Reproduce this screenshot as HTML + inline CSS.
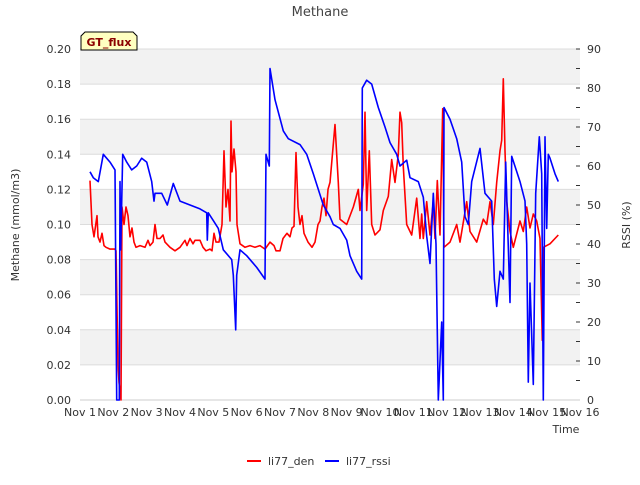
<!DOCTYPE html>
<html><head><meta charset="utf-8"><style>
body{margin:0;background:#fff;font-family:"Liberation Sans","DejaVu Sans",sans-serif}
svg text{font-family:"DejaVu Sans","Liberation Sans",sans-serif}
</style></head><body>
<svg id="c" width="640" height="480" xmlns="http://www.w3.org/2000/svg"></svg>
<script>
const xTickLabels=["Nov 1","Nov 2","Nov 3","Nov 4","Nov 5","Nov 6","Nov 7","Nov 8","Nov 9","Nov 10","Nov 11","Nov 12","Nov 13","Nov 14","Nov 15","Nov 16"];
const leftTicks=[0,0.02,0.04,0.06,0.08,0.10,0.12,0.14,0.16,0.18,0.20];
const rightTicks=[0,10,20,30,40,50,60,70,80,90];
const denDays=[0.30,.36,.42,.51,.54,.60,.66,.72,.78,.90,1.05,1.08,1.14,1.17,1.23,1.26,1.32,1.38,1.44,1.50,1.56,1.62,1.68,1.80,1.95,2.04,2.10,2.19,2.25,2.31,2.40,2.49,2.55,2.70,2.85,3.00,3.15,3.21,3.30,3.39,3.45,3.60,3.69,3.78,3.90,3.96,4.02,4.08,4.17,4.26,4.32,4.38,4.44,4.50,4.53,4.56,4.62,4.68,4.71,4.80,4.95,5.10,5.25,5.40,5.55,5.70,5.82,5.88,6.00,6.09,6.21,6.30,6.36,6.42,6.48,6.54,6.60,6.66,6.72,6.84,6.96,7.05,7.14,7.20,7.26,7.32,7.38,7.44,7.5,7.65,7.75,7.8,8.0,8.2,8.35,8.4,8.5,8.55,8.6,8.68,8.75,8.85,9.0,9.1,9.25,9.35,9.45,9.55,9.6,9.65,9.7,9.8,9.95,10.1,10.2,10.25,10.3,10.4,10.5,10.6,10.65,10.72,10.8,10.88,10.92,11.1,11.3,11.4,11.6,11.7,11.9,12.1,12.2,12.3,12.4,12.5,12.6,12.65,12.7,12.75,12.8,12.9,13.0,13.2,13.3,13.4,13.5,13.6,13.7,13.8,13.87,13.9,14.1,14.35];
const denValues=[.125,.10,.093,.105,.093,.09,.095,.088,.087,.086,.086,.085,.02,.01,0,.11,.1,.11,.105,.093,.098,.09,.087,.088,.087,.091,.088,.09,.1,.092,.092,.094,.09,.087,.085,.087,.091,.088,.092,.089,.091,.091,.087,.085,.086,.085,.095,.09,.09,.1,.142,.11,.12,.102,.159,.13,.143,.13,.1,.089,.087,.088,.087,.088,.086,.09,.088,.085,.085,.092,.095,.093,.098,.099,.141,.11,.1,.105,.095,.09,.087,.09,.1,.102,.11,.115,.105,.12,.124,.157,.124,.103,.1,.11,.12,.108,.123,.164,.108,.142,.1,.094,.097,.108,.116,.137,.124,.14,.164,.158,.133,.1,.094,.115,.092,.106,.092,.113,.094,.113,.092,.125,.094,.166,.087,.09,.1,.09,.113,.096,.09,.103,.1,.113,.1,.124,.142,.148,.183,.142,.113,.096,.087,.102,.096,.11,.098,.106,.102,.092,.034,.087,.089,.094];
const rssiDays=[.30,.40,.55,.70,.90,1.05,1.10,1.18,1.20,1.22,1.28,1.40,1.55,1.70,1.85,2.00,2.15,2.22,2.25,2.45,2.62,2.80,3.00,3.30,3.60,3.80,3.82,3.85,4.00,4.15,4.30,4.55,4.60,4.67,4.70,4.80,5.00,5.30,5.55,5.58,5.68,5.70,5.85,6.10,6.25,6.60,6.80,7.00,7.30,7.5,7.6,7.8,8.0,8.1,8.3,8.45,8.47,8.6,8.75,8.95,9.15,9.3,9.5,9.6,9.8,9.9,10.15,10.3,10.4,10.5,10.6,10.68,10.75,10.85,10.9,10.92,11.1,11.3,11.45,11.55,11.65,11.75,12.0,12.15,12.35,12.43,12.5,12.6,12.7,12.77,12.9,12.95,13.2,13.35,13.4,13.45,13.5,13.6,13.67,13.78,13.85,13.9,13.95,14.0,14.05,14.1,14.25,14.35];
const rssiValues=[58.5,57,56,63,61,59,0,0,56,38.5,63,61,59,60,62,61,56,51,53,53,50,55.5,51,50,49,48,41,48,46,44,38.5,36,32,18,32,38.5,37,34,31,63,60,85,77,69,67,65.5,63,58,50,47,45,44,41,37,33,31,80,82,81,75,70,66,63,60,61.5,57,56,52,42,35,53,40,0,20,0,75,72,67,61,47,45,56,64.5,53,51,31,24,33,31,61,25,62.5,56,51,40,4.6,30,4,53,67.5,58,0,67.5,44,63,62,58,56];

const L=80,R=580,T=49,B=400;
const xs=d=>L+d*(R-L)/15;
const yl=v=>B-v/0.2*(B-T);
const yr=v=>B-v/90*(B-T);
const svg=document.getElementById('c');
const NS='http://www.w3.org/2000/svg';
function mk(tag,at,txt){const e=document.createElementNS(NS,tag);for(const k in at)e.setAttribute(k,at[k]);if(txt!=null)e.textContent=txt;svg.appendChild(e);return e;}

let e=mk('rect',{x:L,y:T,width:R-L,height:B-T,fill:'#fff'});


for(let i=0;i<leftTicks.length-1;i+=2){
  const a=leftTicks[i+1],b=leftTicks[i+2]!==undefined?leftTicks[i+2]:null;
}
// shaded bands
[[0.02,0.04],[0.06,0.08],[0.10,0.12],[0.14,0.16],[0.18,0.20]].forEach(b=>{
  const r=mk('rect',{x:L,y:yl(b[1]),width:R-L,height:yl(b[0])-yl(b[1]),fill:'#f2f2f2'});
  
  
});
leftTicks.forEach(v=>{
  const g=mk('line',{x1:L,x2:R,y1:yl(v),y2:yl(v),stroke:'#dcdcdc','stroke-width':1});
  
  
  const t=mk('text',{x:L-9,y:yl(v)+4,'text-anchor':'end','font-size':11,fill:'#333'},v.toFixed(2));
  
  
});
rightTicks.forEach(v=>{
  const t=mk('text',{x:R+7,y:yr(v)+4,'font-size':11,fill:'#333'},String(v));
  
  
  mk('line',{x1:R,x2:R-4,y1:yr(v),y2:yr(v),stroke:'#333'});
  if(v<90)mk('line',{x1:R,x2:R-4,y1:yr(v+5),y2:yr(v+5),stroke:'#333'});
});
xTickLabels.forEach((s,i)=>{
  const t=mk('text',{x:xs(i),y:B+16,'text-anchor':'middle','font-size':11,fill:'#333'},s);
  
  
});
mk('line',{x1:L,x2:R,y1:B,y2:B,stroke:'#ccc'});
function line(days,vals,fy,color,name){
  const p=mk('polyline',{points:days.map((d,i)=>xs(d).toFixed(1)+','+fy(vals[i]).toFixed(1)).join(' '),fill:'none',stroke:color,'stroke-width':1.6,'stroke-linejoin':'round'});
  
  
}
line(denDays,denValues,yl,'#ff0000','li77-den-line');
line(rssiDays,rssiValues,yr,'#0000ff','li77-rssi-line');

e=mk('text',{x:320,y:16,'text-anchor':'middle','font-size':13,fill:'#444'},'Methane');


e=mk('text',{x:19,y:225,'text-anchor':'middle','font-size':11,fill:'#333',transform:'rotate(-90 19 225)'},'Methane (mmol/m3)');


e=mk('text',{x:630,y:225,'text-anchor':'middle','font-size':11,fill:'#333',transform:'rotate(-90 630 225)'},'RSSI (%)');


e=mk('text',{x:566,y:433,'text-anchor':'middle','font-size':11,fill:'#333'},'Time');


e=mk('path',{d:'M81,50 L81,36 L85,32 L133,32 L137,36 L137,50 Z',fill:'#ffffc0',stroke:'#000','stroke-width':1});


e=mk('text',{x:109,y:46,'text-anchor':'middle','font-size':11,'font-weight':'bold',fill:'#8b0000'},'GT_flux');


mk('line',{x1:247,x2:261,y1:461,y2:461,stroke:'#ff0000','stroke-width':2});
e=mk('text',{x:268,y:465,'font-size':11,fill:'#333'},'li77_den');


mk('line',{x1:325,x2:339,y1:461,y2:461,stroke:'#0000ff','stroke-width':2});
e=mk('text',{x:346,y:465,'font-size':11,fill:'#333'},'li77_rssi');


</script>
</body></html>
